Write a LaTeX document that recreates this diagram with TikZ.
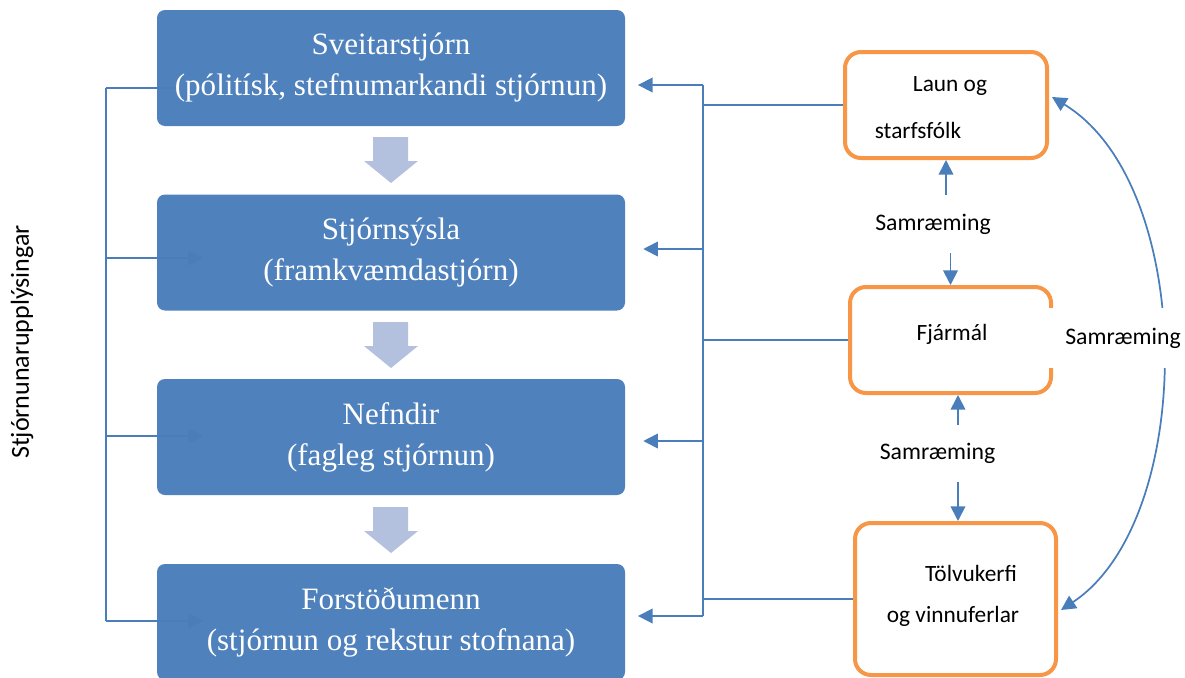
\documentclass[tikz,border=0pt]{standalone}
\usepackage{fontspec}
\setmainfont{Liberation Serif}
\newfontfamily\calib{Carlito}
\usetikzlibrary{arrows.meta,calc}
\definecolor{boxblue}{HTML}{4F81BD}
\definecolor{lineblue}{HTML}{4A7EBB}
\definecolor{blockarrow}{HTML}{B3C1DE}
\definecolor{orangeline}{HTML}{F79646}
\tikzset{
  govbox/.style={fill=boxblue, rounded corners=6pt, minimum width=351pt, minimum height=87pt, inner sep=0pt},
  govtext/.style={text=white, align=center, font=\fontsize{23.3}{30.75}\selectfont},
  orbox/.style={draw=orangeline, line width=3pt, rounded corners=12pt, fill=white, inner sep=0pt},
  sanslabel/.style={font=\calib\fontsize{17.5}{21}\selectfont, inner sep=0pt},
  samlabel/.style={font=\calib\fontsize{17.8}{21}\selectfont, inner sep=0pt},
  conn/.style={draw=lineblue, line width=1.3pt},
  arr/.style={conn, -{Triangle[length=11pt,width=11pt]}},
  darr/.style={conn, {Triangle[length=11pt,width=11pt]}-{Triangle[length=11pt,width=11pt]}},
  blockarr/.style={fill=blockarrow}
}
\begin{document}
\begin{tikzpicture}[x=0.75pt,y=-0.75pt]
\useasboundingbox (0,0) rectangle (1185,678);

% blue boxes
\node[govbox] (g1) at (391,68) {};
\node[govbox] (g2) at (391,252.5) {};
\node[govbox] (g3) at (391,437) {};
\node[govbox] (g4) at (391,622) {};

% block arrows between boxes
\foreach \y/\n in {137/a1,322/a2,507/a3}{
  \fill[blockarr] (373,\y) -- (408,\y) -- (408,\y+24) -- (418,\y+24) -- (391,\y+46) -- (364,\y+24) -- (373,\y+24) -- cycle;
}

% left information bus
\coordinate (l1) at (106,88);
\coordinate (l2) at (106,258);
\coordinate (l3) at (106,436);
\coordinate (l4) at (106,621);
\coordinate (l1e) at (180,88);
\draw[conn] (l1) -- (l4);
\draw[conn] (l1) -- (l1e);
\draw[arr] (l2) -- (l2 -| 203,0);
\draw[arr] (l3) -- (l3 -| 203,0);
\draw[arr] (l4) -- (l4 -| 203,0);

% texts of blue boxes
\node[govtext] (t1) at (g1) {Sveitarstjórn\\(pólitísk, stefnumarkandi stjórnun)};
\node[govtext] (t2) at (g2) {Stjórnsýsla\\(framkvæmdastjórn)};
\node[govtext] (t3) at (g3) {Nefndir\\(fagleg stjórnun)};
\node[govtext] (t4) at (g4) {Forstöðumenn\\(stjórnun og rekstur stofnana)};

% rotated label
\node[font=\calib\fontsize{19.5}{22}\selectfont, rotate=90, inner sep=0pt] (info) at (22,342) {Stjórnunarupplýsingar};

% orange boxes
\node[orbox, minimum width=151.5pt, minimum height=79.5pt] (laun) at (946,105) {};
\node[orbox, minimum width=150.75pt, minimum height=79.5pt] (fin) at (950.5,340) {};
\node[orbox, minimum width=150.75pt, minimum height=114pt] (tolvu) at (955.5,599) {};

\node[sanslabel] (launA) at (950,86) {Laun og};
\node[sanslabel] (launB) at (918,130) {starfsfólk};
\node[sanslabel] (finT) at (952,334) {Fjármál};
\node[sanslabel] (tolA) at (971,573) {Tölvukerfi};
\node[sanslabel] (tolB) at (953,616) {og vinnuferlar};

% right bus
\coordinate (r1) at (703,85);
\coordinate (r2) at (703,249);
\coordinate (r3) at (703,441);
\coordinate (r4) at (703,616);
\draw[conn] (r1) -- (r4);
\draw[arr, shorten >=9.5pt] (r1) -- (r1 -| g1.east);
\draw[arr, shorten >=13.5pt] (r2) -- (r2 -| g2.east);
\draw[arr, shorten >=13.5pt] (r3) -- (r3 -| g3.east);
\draw[arr, shorten >=9.5pt] (r4) -- (r4 -| g4.east);
\draw[conn] (laun.west) -- (laun.west -| r1);
\draw[conn] (fin.west) -- (fin.west -| r1);
\draw[conn] (tolvu.west) -- (tolvu.west -| r1);

% coordination labels and arrows
\node[samlabel, minimum height=43pt] (s1) at (933,224) {Samræming};
\node[samlabel, minimum height=42.75pt] (s2) at (937.5,453.5) {Samræming};
\draw[arr] (laun.south |- s1.north) -- (laun.south);
\draw[arr] (fin.north |- s1.south) -- (fin.north);
\draw[arr] ($(tolvu.north |- s2.north)+(2.5,0)$) -- ($(fin.south)+(7.5,0)$);
\draw[arr] ($(tolvu.north |- s2.south)+(2.5,0)$) -- ($(tolvu.north)+(2.5,0)$);

\coordinate (cb) at (1061,610);
\coordinate (ct) at (1052,97);
\draw[darr] (cb) .. controls (1197,520) and (1197,185) .. (ct);
\node[samlabel, fill=white, inner xsep=14pt, minimum height=45pt] (s3) at (1123,338) {Samræming};
\end{tikzpicture}
\end{document}
